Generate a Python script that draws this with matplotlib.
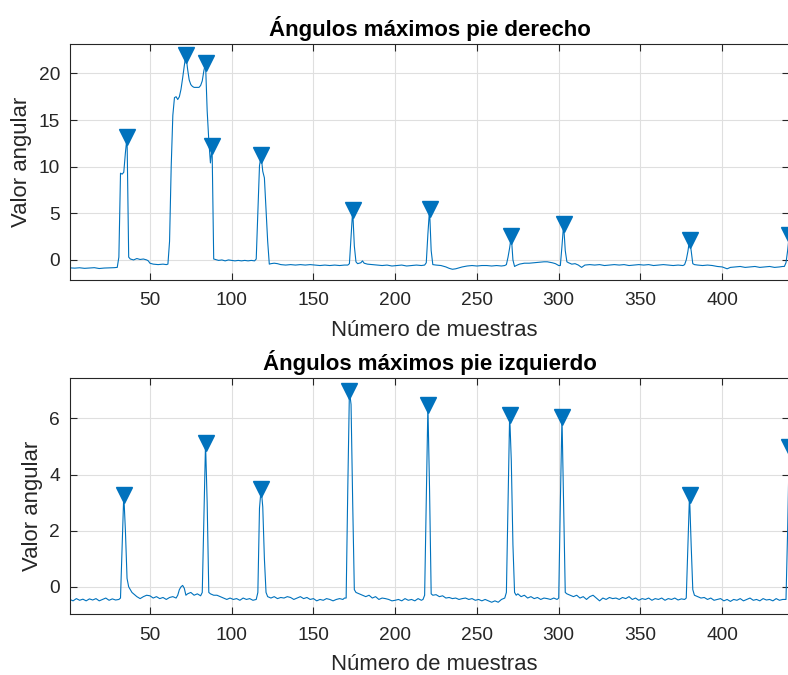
import matplotlib
matplotlib.use("Agg")
import matplotlib.pyplot as plt

# pie derecho: sample number / angle (vertices)
der_x = [1, 4, 7, 10, 13, 16, 19, 22, 25, 28, 30,
         31, 32, 33, 34, 35, 36, 37, 38, 40, 42, 44, 46, 48, 49, 50, 52, 55, 58, 60, 61,
         62, 63, 64, 65, 66, 67, 68, 69, 70, 71, 72, 73, 74, 75, 76, 77, 78, 79, 80, 81, 82, 83, 84,
         85, 86, 87, 88, 89,
         90, 92, 94, 96, 98, 100, 102, 104, 106, 108, 110, 112, 114, 115,
         116, 117, 118, 119, 120, 121, 122, 123, 124, 126, 128, 130, 133, 136, 139, 142, 145,
         148, 151, 154, 157, 160, 163, 166, 169, 171, 172,
         173, 174, 175, 176, 177, 179, 180, 181, 183, 186, 189, 192, 195, 198, 201, 204, 207,
         210, 213, 216, 218, 219,
         220, 221, 222, 223, 225, 228, 231, 233, 235, 237, 239, 241, 244, 247, 250, 253, 256,
         259, 262, 265, 267, 268,
         269, 270, 271, 272, 273, 274, 276, 279, 282, 285, 288, 291, 293, 296, 298, 300, 301,
         302, 303, 304, 305, 306, 308, 310, 312, 314, 316, 319, 322, 325, 328, 331, 334, 337,
         340, 343, 346, 349, 352, 355, 358, 361, 364, 367, 370, 373, 376, 377,
         378, 379, 380, 381, 382, 383, 385, 388, 391, 394, 397, 400, 403, 405, 408, 411, 414,
         417, 420, 423, 426, 429, 432, 435, 437, 438, 439, 440, 441]
der_y = [-0.85, -0.88, -0.84, -0.9, -0.86, -0.83, -0.92, -0.87, -0.85, -0.83, -0.8,
         0.3, 9.3, 9.2, 9.4, 11.5, 13.2, 0.3, 0.1, 0.0, 0.15, 0.05, 0.1, 0.0, -0.1, -0.35, -0.45, -0.5, -0.45, -0.5, -0.45,
         2.0, 10.0, 15.5, 17.4, 17.5, 17.2, 17.5, 18.3, 19.5, 20.8, 22.0, 20.5, 19.3, 18.8, 18.6, 18.5, 18.5, 18.5, 18.5, 18.7, 19.2, 20.3, 21.1,
         16.0, 12.8, 10.4, 12.2, 0.1,
         0.05, -0.05, 0.0, -0.1, 0.0, -0.05, -0.1, -0.05, -0.1, -0.05, -0.1, -0.05, -0.1, 0.1,
         5.0, 10.1, 11.2, 9.5, 8.8, 5.5, 2.0, -0.45, -0.4, -0.35, -0.4, -0.5, -0.55, -0.5, -0.55, -0.5, -0.55,
         -0.5, -0.55, -0.6, -0.55, -0.6, -0.55, -0.6, -0.55, -0.55, -0.4,
         2.5, 5.36, 1.5, -0.2, -0.4, -0.3, -0.1, -0.35, -0.45, -0.5, -0.55, -0.6, -0.55, -0.65, -0.6, -0.55, -0.65,
         -0.6, -0.55, -0.6, -0.55, -0.3,
         2.8, 5.43, 1.0, -0.5, -0.55, -0.6, -0.75, -0.9, -1.0, -0.95, -0.85, -0.75, -0.65, -0.6, -0.65, -0.6, -0.6,
         -0.65, -0.6, -0.65, -0.6, -0.5,
         0.3, 1.3, 2.57, 0.0, -0.7, -0.6, -0.45, -0.35, -0.35, -0.3, -0.25, -0.2, -0.2, -0.3, -0.4, -0.6, -0.6,
         1.5, 3.82, 1.0, -0.2, -0.3, -0.45, -0.4, -0.55, -0.8, -0.55, -0.5, -0.55, -0.5, -0.6, -0.55, -0.5, -0.55,
         -0.5, -0.6, -0.55, -0.5, -0.55, -0.5, -0.6, -0.55, -0.5, -0.55, -0.6, -0.55, -0.6, -0.5,
         0.0, 0.9, 2.14, 1.0, -0.4, -0.5, -0.55, -0.6, -0.55, -0.6, -0.7, -0.75, -0.95, -0.8, -0.75, -0.7, -0.8,
         -0.75, -0.7, -0.8, -0.75, -0.7, -0.8, -0.75, -0.7, -0.7, -0.3, 1.0, 2.68]
der_picos = [36, 72, 84, 88, 118, 174, 221, 271, 303, 380, 441]

# pie izquierdo
izq_x = [1, 3, 5, 7, 9, 11, 13, 15, 17, 19, 21, 23, 25, 27, 29, 31,
         32, 33, 34, 35, 36, 37, 38, 39, 40, 42, 44, 46, 48, 50, 52, 54, 56, 58, 60, 62, 64, 66,
         67, 68, 69, 70, 71, 72, 73, 75, 77, 79, 81, 82,
         83, 84, 85, 86, 87, 89, 91, 93, 95, 97, 99, 101, 103, 105, 107, 109, 111, 113, 115,
         116, 117, 118, 119, 120, 121, 122, 124, 126, 128, 130, 132, 134, 136, 138, 140, 142,
         144, 146, 148, 150, 152, 154, 156, 158, 160, 162, 164, 166, 168, 169,
         170, 171, 172, 173, 174, 175, 176, 178, 180, 182, 184, 186, 188, 190, 192, 194, 196,
         198, 200, 202, 204, 206, 208, 210, 212, 214, 216, 217,
         218, 219, 220, 221, 222, 223, 225, 227, 229, 231, 233, 235, 237, 239, 241, 243, 245,
         247, 249, 251, 253, 255, 257, 259, 261, 263, 265, 267,
         268, 269, 270, 271, 272, 273, 274, 275, 277, 279, 281, 283, 285, 287, 289, 291, 293,
         295, 297, 299,
         300, 301, 302, 303, 304, 305, 307, 309, 311, 313, 315, 317, 319, 321, 323, 325, 327,
         329, 331, 333, 335, 337, 339, 341, 343, 345, 347, 349, 351, 353, 355, 357, 359, 361,
         363, 365, 367, 369, 371, 373, 375, 377,
         378, 379, 380, 381, 382, 383, 385, 387, 389, 391, 393, 395, 397, 399, 401, 403, 405,
         407, 409, 411, 413, 415, 417, 419, 421, 423, 425, 427, 429, 431, 433, 435, 437, 439,
         440, 441]
izq_y = [-0.45, -0.5, -0.42, -0.48, -0.44, -0.5, -0.43, -0.47, -0.42, -0.5, -0.45, -0.4, -0.48, -0.43, -0.47, -0.45,
         -0.4, 1.5, 3.29, 2.0, 0.3, 0.0, -0.1, -0.2, -0.25, -0.35, -0.42, -0.35, -0.3, -0.32, -0.4, -0.35, -0.42, -0.38, -0.45, -0.38, -0.35, -0.4,
         -0.3, -0.1, 0.0, 0.05, -0.05, -0.3, -0.25, -0.2, -0.3, -0.25, -0.32, -0.2,
         2.5, 5.13, 3.0, -0.2, -0.25, -0.3, -0.3, -0.35, -0.4, -0.45, -0.4, -0.45, -0.42, -0.48, -0.4, -0.45, -0.42, -0.48, -0.45,
         -0.2, 2.8, 3.5, 2.85, 1.0, -0.2, -0.35, -0.4, -0.35, -0.42, -0.38, -0.4, -0.35, -0.38, -0.45, -0.4, -0.35,
         -0.42, -0.38, -0.45, -0.42, -0.5, -0.45, -0.48, -0.42, -0.45, -0.5, -0.45, -0.42, -0.45, -0.4,
         -0.4, 3.5, 6.98, 6.5, 3.0, -0.1, -0.2, -0.25, -0.3, -0.35, -0.3, -0.4, -0.35, -0.45, -0.4, -0.42, -0.45,
         -0.5, -0.48, -0.45, -0.5, -0.42, -0.48, -0.45, -0.5, -0.42, -0.48, -0.45,
         -0.3, 3.0, 6.47, 3.5, -0.25, -0.3, -0.28, -0.35, -0.32, -0.4, -0.38, -0.42, -0.4, -0.45, -0.42, -0.4, -0.45,
         -0.42, -0.48, -0.45, -0.5, -0.45, -0.5, -0.55, -0.5, -0.55, -0.45, -0.4,
         -0.2, 3.0, 6.14, 4.5, 1.5, -0.2, -0.3, -0.25, -0.35, -0.3, -0.4, -0.35, -0.42, -0.38, -0.45, -0.4, -0.42,
         -0.45, -0.4, -0.45,
         -0.4, 3.0, 6.06, 3.0, -0.2, -0.25, -0.3, -0.35, -0.3, -0.4, -0.35, -0.45, -0.35, -0.3, -0.4, -0.5, -0.4,
         -0.45, -0.38, -0.42, -0.4, -0.45, -0.38, -0.42, -0.35, -0.45, -0.4, -0.48, -0.42, -0.45, -0.4, -0.48, -0.42, -0.45,
         -0.4, -0.48, -0.42, -0.45, -0.4, -0.47, -0.43, -0.45,
         -0.4, 1.5, 3.29, 1.5, -0.1, -0.3, -0.35, -0.4, -0.38, -0.45, -0.4, -0.48, -0.45, -0.42, -0.5, -0.45, -0.52,
         -0.45, -0.48, -0.42, -0.5, -0.45, -0.4, -0.48, -0.45, -0.5, -0.42, -0.47, -0.45, -0.5, -0.42, -0.48, -0.45, -0.45,
         2.0, 4.99]
izq_picos = [34, 84, 118, 172, 220, 270, 302, 380, 441]

titulos = ["Ángulos máximos pie derecho", "Ángulos máximos pie izquierdo"]
xticks = [50, 100, 150, 200, 250, 300, 350, 400]

plt.rcParams['font.family'] = ['Liberation Sans', 'DejaVu Sans']
azul = '#0072BD'
gris = '#262626'

fig = plt.figure(figsize=(7.88, 6.75), dpi=100)
ax1 = fig.add_axes([0.0886, 0.5852, 0.913, 0.3496])
ax2 = fig.add_axes([0.0886, 0.0899, 0.913, 0.3496])

series = [(ax1, der_x, der_y, der_picos, (-2.15, 23.15), [0, 5, 10, 15, 20]),
          (ax2, izq_x, izq_y, izq_picos, (-0.98, 7.43), [0, 2, 4, 6])]

for i, (ax, xs, ys, picos, ylim, yticks) in enumerate(series):
    ax.plot(xs, ys, color=azul, lw=0.8)
    pk = [ys[xs.index(p)] for p in picos]
    ax.plot(picos, pk, 'v', color=azul, ms=11)
    ax.set_xlim(1, 441)
    ax.set_ylim(*ylim)
    ax.set_xticks(xticks)
    ax.set_yticks(yticks)
    ax.grid(True, color='#dfdfdf', lw=0.8)
    ax.set_axisbelow(True)
    for s in ax.spines.values():
        s.set_color(gris)
        s.set_linewidth(0.8)
    ax.tick_params(direction='in', top=True, right=True, length=5, width=0.8,
                   colors=gris, labelsize=13.8)
    ax.tick_params(axis='x', pad=9)
    ax.tick_params(axis='y', pad=7)
    ax.set_title(titulos[i], fontsize=16, fontweight='bold', color='black', pad=6)
    ax.set_xlabel('Número de muestras', fontsize=15.9, color=gris)
    ax.set_ylabel('Valor angular', fontsize=15.9, color=gris)
    ax.xaxis.set_label_coords(0.506, -0.168)

ax1.yaxis.set_label_coords(-0.0525, 0.5)
ax2.yaxis.set_label_coords(-0.0372, 0.46)

fig.savefig('out.png', dpi=100)
